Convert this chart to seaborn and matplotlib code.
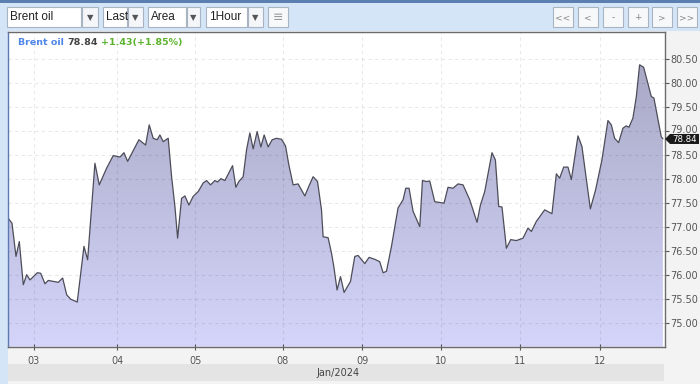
import numpy as np
import pandas as pd
import matplotlib
matplotlib.use("Agg")
import matplotlib.pyplot as plt
import matplotlib.transforms as mtransforms
import seaborn as sns
from matplotlib.patches import Rectangle, Polygon
from matplotlib.colors import LinearSegmentedColormap

# ---- data (x in hourly bar index) ----
hours = [0.0, 1.16, 2.31, 3.27, 4.42, 5.40, 6.36, 8.47, 9.45, 10.69,
         11.65, 14.54, 15.81, 16.97, 18.12, 20.03, 21.97, 23.03, 25.14, 26.39,
         28.53, 30.43, 32.37, 33.53, 34.60, 37.86, 39.80, 40.84, 41.99, 43.15,
         43.93, 44.88, 45.87, 46.33, 47.31, 48.27, 49.05, 50.20, 51.16, 52.31,
         53.55, 55.0, 56.45, 57.43, 58.58, 59.83, 60.61, 61.56, 62.72, 64.94,
         65.90, 66.76, 68.01, 68.99, 69.94, 70.90, 72.05, 73.12, 74.08, 75.23,
         76.39, 77.66, 79.10, 80.26, 81.21, 82.46, 83.90, 85.84, 87.0, 88.24,
         89.51, 90.66, 91.13, 92.57, 93.55, 94.22, 95.17, 96.16, 97.20, 99.05,
         100.29, 101.24, 103.18, 104.42, 106.07, 107.51, 108.47, 109.45, 110.90, 112.80,
         114.25, 115.03, 115.98, 117.14, 119.08, 119.86, 121.01, 121.97, 123.41, 126.10,
         127.25, 128.70, 130.14, 131.59, 133.53, 135.64, 136.62, 137.86, 139.97, 140.95,
         141.91, 142.86, 144.13, 145.38, 147.02, 148.93, 150.38, 151.36, 152.80, 155.20,
         157.31, 158.58, 159.54, 160.69, 161.94, 162.92, 164.83, 165.98, 168.41, 169.94,
         171.76, 173.50, 174.48, 175.43, 176.59, 177.83, 178.81, 179.57, 180.72, 181.71,
         182.66, 183.82, 186.04, 186.79, 188.93, 189.39]
prices = [77.19, 77.08, 76.39, 76.70, 75.80, 76.01, 75.90, 76.05, 76.04, 75.82,
          75.89, 75.85, 75.94, 75.59, 75.50, 75.44, 76.60, 76.32, 78.33, 77.88,
          78.23, 78.49, 78.46, 78.55, 78.37, 78.82, 78.71, 79.13, 78.85, 78.82,
          78.92, 78.78, 78.83, 78.85, 78.05, 77.43, 76.77, 77.60, 77.65, 77.46,
          77.64, 77.74, 77.92, 77.97, 77.88, 77.97, 77.94, 78.01, 77.97, 78.28,
          77.83, 77.95, 78.05, 78.61, 78.96, 78.63, 78.99, 78.67, 78.92, 78.67,
          78.82, 78.85, 78.83, 78.69, 78.30, 77.88, 77.90, 77.65, 77.85, 78.05,
          77.95, 77.36, 76.80, 76.78, 76.46, 76.18, 75.69, 75.97, 75.64, 75.87,
          76.39, 76.41, 76.24, 76.37, 76.33, 76.28, 76.05, 76.08, 76.60, 77.40,
          77.57, 77.81, 77.81, 77.33, 77.01, 77.97, 77.95, 77.96, 77.53, 77.50,
          77.83, 77.81, 77.90, 77.88, 77.57, 77.10, 77.46, 77.74, 78.55, 78.40,
          77.43, 77.42, 76.56, 76.74, 76.72, 76.77, 76.98, 76.91, 77.12, 77.36,
          77.28, 78.11, 78.02, 78.25, 78.25, 77.99, 78.90, 78.68, 77.38, 77.78,
          78.40, 79.22, 79.13, 78.85, 78.76, 79.06, 79.11, 79.08, 79.27, 79.72,
          80.38, 80.33, 79.72, 79.69, 78.88, 78.84]

tick_pos = [7.5, 31.6, 54.2, 79.4, 102.4, 125.1, 148.2, 171.3]
tick_labels = ["03", "04", "05", "08", "09", "10", "11", "12"]
y_ticks = [75.0, 75.5, 76.0, 76.5, 77.0, 77.5, 78.0, 78.5, 79.0, 79.5, 80.0, 80.5]
last_price = 78.84
header_name = "Brent oil"
header_change = "+1.43(+1.85%)"
month_label = "Jan/2024"

df = pd.DataFrame({"hour": hours, "price": prices})

W, H = 700, 384
sns.set_theme(style="white")
plt.rcParams['font.family'] = ['DejaVu Sans']
fig = plt.figure(figsize=(W / 100, H / 100), dpi=100)
fig.patch.set_facecolor("#d5e5f8")


def fx(px):
    return px / W


def fy(py):
    return 1 - py / H


def frect(x0, y0, x1, y1, z=-10, **kw):
    r = Rectangle((fx(x0), fy(y1)), fx(x1) - fx(x0), fy(y0) - fy(y1),
                  transform=fig.transFigure, zorder=z, **kw)
    fig.add_artist(r)
    return r


# top dark line
frect(0, 0, 700, 2.5, facecolor="#5b7fb0", edgecolor="none")
# chart panel background
frect(8, 31, 700, 384, facecolor="#f3f3f3", edgecolor="none")
frect(8, 364, 664, 381, facecolor="#e4e4e4", edgecolor="none")
fig.text(fx(338), fy(373), month_label, fontsize=7, color="#444444",
         ha="center", va="center")

# toolbar dropdowns
dropdowns = [("Brent oil", 7, 82, 98), ("Last", 103, 128, 143),
             ("Area", 148, 187, 200), ("1Hour", 206, 248, 263)]
for label, x0, xa, x1 in dropdowns:
    frect(x0, 7, xa - 1, 27, facecolor="white", edgecolor="#a9b4c2", linewidth=0.8)
    frect(xa, 7, x1, 27, facecolor="#f4f6f9", edgecolor="#a9b4c2", linewidth=0.8)
    fig.text(fx(x0 + 3), fy(17.5), label, fontsize=8.5, color="#222222",
             ha="left", va="center", family=["Liberation Sans", "DejaVu Sans"])
    fig.text(fx((xa + x1) / 2), fy(17.5), "\u25BC", fontsize=6, color="#555555",
             ha="center", va="center")
frect(268, 7, 288, 27, facecolor="#f7f8fa", edgecolor="#a9b4c2", linewidth=0.8)
fig.text(fx(278), fy(17.5), "\u2261", fontsize=9, color="#999999", ha="center", va="center")

nav = [("<<", 553), ("<", 578), ("-", 603), ("+", 628), (">", 652), (">>", 677)]
for label, x0 in nav:
    frect(x0, 7, x0 + 20, 27, facecolor="#f7f8fa", edgecolor="#a9b4c2", linewidth=0.8)
    fig.text(fx(x0 + 10), fy(17.5), label, fontsize=6.5, color="#888888",
             ha="center", va="center")

# main axes
left, right, top, bottom = 8, 665, 31.7, 346.7
ax = fig.add_axes([fx(left), fy(bottom), fx(right) - fx(left), fy(top) - fy(bottom)])
ax.set_facecolor("white")
xmin, xmax = 0.0, 190.0
ymin, ymax = 74.51, 81.07

# gradient fill under the curve
poly = ax.fill_between(df["hour"], df["price"], ymin, facecolor="none", edgecolor="none")
cmap = LinearSegmentedColormap.from_list("g", ["#d5d5fb", "#a4a4c0"])
grad = np.linspace(0, 1, 256).reshape(-1, 1)
im = ax.imshow(grad, extent=[xmin, xmax, ymin, ymax], origin="lower", aspect="auto",
               cmap=cmap, zorder=1)
im.set_clip_path(poly.get_paths()[0], transform=ax.transData)

sns.lineplot(data=df, x="hour", y="price", ax=ax, color="#4d4d5a", linewidth=0.9, zorder=3)

ax.set_xlim(xmin, xmax)
ax.set_ylim(ymin, ymax)
ax.set_xticks(tick_pos)
ax.set_xticklabels(tick_labels)
ax.set_yticks(y_ticks)
ax.set_yticklabels([f"{v:.2f}" for v in y_ticks])
ax.yaxis.tick_right()
ax.tick_params(axis="y", which="both", direction="out", length=3, width=0.8,
               colors="#555555", labelsize=7, pad=1, right=True, left=False)
ax.tick_params(axis="x", which="both", direction="inout", length=5, width=0.8,
               colors="#555555", labelsize=7, pad=4, bottom=True)
ax.set_xlabel("")
ax.set_ylabel("")
ax.set_axisbelow(False)
ax.grid(True, color="#000000", alpha=0.09, linestyle=(0, (3, 3)), linewidth=0.8,
        zorder=2)
for side, sp in ax.spines.items():
    sp.set_visible(True)
    sp.set_linewidth(1.0)
    sp.set_color("#6b6b6b")
    sp.set_zorder(4)
ax.spines["left"].set_color("#5a7ab0")

# nudge the tick label right above the last-price marker up a little
shift_up = mtransforms.ScaledTranslation(0, 1.5 / 72, fig.dpi_scale_trans)
for tick in ax.yaxis.get_major_ticks():
    if abs(tick.get_loc() - 79.0) < 1e-6:
        tick.label2.set_transform(tick.label2.get_transform() + shift_up)

# header text in plot, placed one after another
t1 = ax.text(0.015, 0.965, header_name, transform=ax.transAxes, fontsize=6.8,
             fontweight="bold", color="#4f86e8", ha="left", va="center")
t2 = ax.annotate(f"{last_price:.2f}", xy=(1, 0.5), xycoords=t1, xytext=(2.5, 0),
                 textcoords="offset points", fontsize=6.8, fontweight="bold",
                 color="#444444", ha="left", va="center")
t3 = ax.annotate(header_change, xy=(1, 0.5), xycoords=t2, xytext=(2.5, 0),
                 textcoords="offset points", fontsize=6.8, fontweight="bold",
                 color="#5cb32e", ha="left", va="center")

# last price marker on right axis
ly = 323.3 - (last_price - 75.0) * 48.0
pts = [(fx(665), fy(ly)), (fx(670), fy(ly - 5)), (fx(699), fy(ly - 5)),
       (fx(699), fy(ly + 5)), (fx(670), fy(ly + 5))]
fig.add_artist(Polygon(pts, closed=True, transform=fig.transFigure,
                       facecolor="#1a1a1a", edgecolor="none", zorder=5))
fig.text(fx(684.5), fy(ly + 1), f"{last_price:.2f}", fontsize=6.2, color="white",
         ha="center", va="center", zorder=6)

fig.savefig("out.png", dpi=100, facecolor=fig.get_facecolor())
